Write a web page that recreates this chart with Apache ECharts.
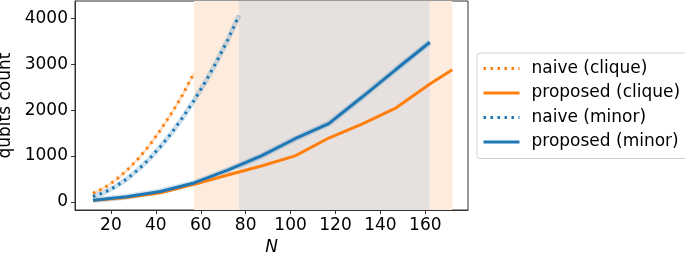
<!DOCTYPE html>
<html>
<head>
<meta charset="utf-8">
<script src="https://cdn.jsdelivr.net/npm/echarts@6/dist/echarts.min.js"></script>
<style>
  html, body { margin: 0; padding: 0; background: #fff; }
  #chart { width: 685px; height: 253px; }
</style>
</head>
<body>
<div id="chart"></div>
<script>
// problem sizes
var nNaiveClique = [12, 17, 22, 27, 32, 37, 42, 47, 52, 57];
var nNaiveMinor = [12, 17, 22, 27, 32, 37, 42, 47, 52, 57, 62, 67, 72, 77];
var nPropClique = [12, 27, 42, 57, 72, 87, 102, 117, 132, 147, 162, 172];
var nPropMinor = [12, 27, 42, 57, 72, 87, 102, 117, 132, 147, 162];

// qubit counts
var naiveClique = [185, 300, 470, 680, 930, 1220, 1560, 1930, 2340, 2810];
var naiveMinor = [115, 200, 330, 495, 695, 930, 1200, 1500, 1840, 2210, 2610, 3050, 3530, 4060];
var propClique = [25, 95, 195, 380, 585, 780, 1000, 1390, 1700, 2050, 2570, 2880];
var propMinor = [35, 110, 225, 410, 690, 1000, 1375, 1705, 2290, 2890, 3480];

var xTicks = [20, 40, 60, 80, 100, 120, 140, 160];
var yTicks = [0, 1000, 2000, 3000, 4000];

// shaded ranges of N
var cliqueRange = [57, 172];
var minorRange = [77, 162];

var ORANGE = '#ff7f0e';
var BLUE = '#1f77b4';
var FONT = "'DejaVu Sans', sans-serif";

function pairs(xs, ys) {
  return xs.map(function (x, i) { return [x, ys[i]]; });
}

var myChart = echarts.init(document.getElementById('chart'));
myChart.setOption({
  animation: false,
  grid: {
    left: 75, right: 217, top: 1, bottom: 43,
    containLabel: false, outerBoundsMode: 'none',
    show: true, borderColor: '#333', borderWidth: 1, backgroundColor: 'transparent'
  },
  legend: {
    orient: 'vertical',
    left: 477, top: 53,
    padding: [7, 8, 8, 5],
    itemWidth: 36, itemHeight: 14, itemGap: 7.5,
    borderColor: '#d0d0d0', borderWidth: 1, borderRadius: 3,
    backgroundColor: '#fff',
    itemStyle: { opacity: 0 },
    lineStyle: { width: 3 },
    textStyle: { fontFamily: FONT, fontSize: 17, color: '#000', padding: [0, 0, 0, 7] },
    data: ['naive (clique)', 'proposed (clique)', 'naive (minor)', 'proposed (minor)']
  },
  xAxis: {
    type: 'value', min: 4, max: 179,
    name: 'N', nameLocation: 'middle', nameGap: 20,
    nameTextStyle: { fontFamily: FONT, fontSize: 17, fontStyle: 'italic', color: '#000' },
    splitLine: { show: false },
    axisLine: { onZero: false, lineStyle: { color: '#333' } },
    axisTick: { customValues: xTicks, length: 4, lineStyle: { color: '#333' } },
    axisLabel: { customValues: xTicks, formatter: '{value}', fontFamily: FONT, fontSize: 17, color: '#000', margin: 7 }
  },
  yAxis: {
    type: 'value', min: -180, max: 4380,
    name: 'qubits count', nameLocation: 'middle', nameGap: 52,
    nameTextStyle: { fontFamily: FONT, fontSize: 17, color: '#000' },
    splitLine: { show: false },
    axisLine: { show: true, onZero: false, lineStyle: { color: '#333' } },
    axisTick: { show: true, customValues: yTicks, length: 4, lineStyle: { color: '#333' } },
    axisLabel: { customValues: yTicks, formatter: function (v) { return String(v); }, fontFamily: FONT, fontSize: 17, color: '#000', margin: 7 }
  },
  series: [
    {
      name: 'bands', type: 'line', data: [], silent: true, z: 0,
      markArea: {
        silent: true,
        data: [
          [{ xAxis: cliqueRange[0], itemStyle: { color: '#fdecdd' } }, { xAxis: minorRange[0] }],
          [{ xAxis: minorRange[0], itemStyle: { color: '#e6e0de' } }, { xAxis: minorRange[1] }],
          [{ xAxis: minorRange[1], itemStyle: { color: '#fdecdd' } }, { xAxis: cliqueRange[1] }]
        ]
      }
    },
    // faint spread bands under the lines
    {
      name: 'naive (clique) band', type: 'line', data: pairs(nNaiveClique, naiveClique),
      showSymbol: false, symbol: 'none', silent: true, z: 1,
      lineStyle: { width: 2.5, color: 'rgba(255,127,14,0.25)' }
    },
    {
      name: 'naive (minor) band', type: 'line', data: pairs(nNaiveMinor, naiveMinor),
      showSymbol: false, symbol: 'none', silent: true, z: 1,
      lineStyle: { width: 5, color: 'rgba(31,119,180,0.22)' }
    },
    {
      name: 'proposed (minor) band', type: 'line', data: pairs(nPropMinor, propMinor),
      showSymbol: false, symbol: 'none', silent: true, z: 1,
      lineStyle: { width: 6, color: 'rgba(31,119,180,0.2)' }
    },
    {
      name: 'naive (clique)', type: 'line', data: pairs(nNaiveClique, naiveClique),
      showSymbol: false, symbol: 'none', z: 2, color: ORANGE,
      lineStyle: { width: 3, color: ORANGE, type: [2.5, 4.5] }
    },
    {
      name: 'proposed (clique)', type: 'line', data: pairs(nPropClique, propClique),
      showSymbol: false, symbol: 'none', z: 2, color: ORANGE,
      lineStyle: { width: 3, color: ORANGE }
    },
    {
      name: 'naive (minor)', type: 'line', data: pairs(nNaiveMinor, naiveMinor),
      showSymbol: false, symbol: 'none', z: 3, color: BLUE,
      lineStyle: { width: 3, color: BLUE, type: [2.5, 4.5] }
    },
    {
      name: 'proposed (minor)', type: 'line', data: pairs(nPropMinor, propMinor),
      showSymbol: false, symbol: 'none', z: 3, color: BLUE,
      lineStyle: { width: 3, color: BLUE }
    }
  ]
});
</script>
</body>
</html>
